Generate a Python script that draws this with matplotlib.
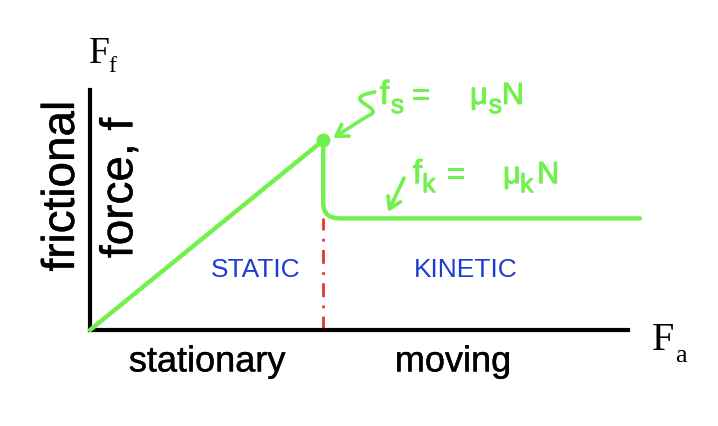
import matplotlib.pyplot as plt
import matplotlib.patheffects as pe
from matplotlib.path import Path
from matplotlib.patches import PathPatch, FancyArrowPatch

# friction vs applied force (arbitrary units)
applied_force = [0.0, 4.24, 10.0]     # start, breakaway point, end of plot
static_friction = [0.0, 7.9]          # rises to fs = mu_s N
kinetic_friction = 4.65               # then drops to fk = mu_k N
axis_end = 9.78

region_labels = ["STATIC", "KINETIC"]
motion_labels = ["stationary", "moving"]

green = "#72f04e"
blue = "#1c3dcf"
red = "#e8352b"
sans = "Liberation Sans"
serif = "Liberation Serif"

fig = plt.figure(figsize=(7.18, 4.26), dpi=100)
ax = fig.add_axes([90 / 718, 96 / 426, 550 / 718, 240 / 426])
ax.set_xlim(0, 10)
ax.set_ylim(0, 10)
ax.set_xticks([])
ax.set_yticks([])
for s in ["top", "right"]:
    ax.spines[s].set_visible(False)
for s in ["left", "bottom"]:
    ax.spines[s].set_linewidth(3)
ax.spines["bottom"].set_bounds(0, axis_end)
ax.patch.set_visible(False)

x0, xp, xe = applied_force
# static part
ax.plot([x0, xp], static_friction, color=green, lw=3.2, solid_capstyle="round", zorder=3, clip_on=False)
ax.plot([xp], [static_friction[1]], "o", color=green, ms=9, zorder=4, clip_on=False)

# kinetic part with rounded corner
rx, ry = 0.3, 0.65
verts = [(xp, static_friction[1]), (xp, kinetic_friction + ry), (xp, kinetic_friction),
         (xp + rx, kinetic_friction), (xe, kinetic_friction)]
codes = [Path.MOVETO, Path.LINETO, Path.CURVE3, Path.CURVE3, Path.LINETO]
ax.add_patch(PathPatch(Path(verts, codes), fill=False, edgecolor=green, lw=3.2,
                       capstyle="round", joinstyle="round", zorder=3, clip_on=False))

# boundary between static and kinetic
ax.plot([xp, xp], [0, kinetic_friction], color=red, lw=2, dashes=(5, 3, 1, 3), zorder=2)

# slightly heavier strokes, like the original's text rendering
heavy = [pe.withStroke(linewidth=0.3, foreground="black")]
heavy_green = [pe.withStroke(linewidth=0.7, foreground=green)]

# region labels
ax.text(3.02, 2.5, region_labels[0], color=blue, fontsize=19, family=sans, ha="center", va="center")
ax.text(6.84, 2.5, region_labels[1], color=blue, fontsize=19, family=sans, ha="center", va="center")
ax.text(2.13, -1.33, motion_labels[0], fontsize=26, family=sans, ha="center", va="center", clip_on=False,
        path_effects=heavy)
ax.text(6.6, -1.33, motion_labels[1], fontsize=26, family=sans, ha="center", va="center", clip_on=False,
        path_effects=heavy)

# axis labels
ax.text(-0.51, 6.0, "frictional", fontsize=33, family=sans, rotation=90, ha="center", va="center",
        path_effects=heavy)
ax.text(0.55, 5.92, "force, f", fontsize=33, family=sans, rotation=90, ha="center", va="center",
        path_effects=heavy)
ax.text(-0.02, 11.12, "F", fontsize=27, family=serif, va="baseline")
ax.text(0.34, 10.75, "f", fontsize=17, family=serif, va="baseline")
ax.text(10.22, -0.83, "F", fontsize=29, family=serif, va="baseline")
ax.text(10.64, -1.33, "a", fontsize=19, family=serif, va="baseline")


def formula(y, sub, xs):
    # xs: positions of f, sub, =, mu, sub, N
    kw = dict(color=green, family=sans, va="baseline", path_effects=heavy_green)
    ax.text(xs[0], y, "f", fontsize=24, **kw)
    ax.text(xs[1], y - 0.38, sub, fontsize=19, **kw)
    ax.text(xs[2], y, "=", fontsize=22, **kw)
    ax.text(xs[3], y, "\u03bc", fontsize=22, **kw)
    ax.text(xs[4], y - 0.38, sub, fontsize=19, **kw)
    ax.text(xs[5], y, "N", fontsize=22, **kw)


formula(9.42, "s", [5.27, 5.47, 5.84, 6.91, 7.25, 7.49])
formula(6.12, "k", [5.87, 6.04, 6.49, 7.51, 7.82, 8.13])

# squiggly arrow to the peak
squiggle = Path([(5.18, 9.92), (4.45, 9.6), (5.45, 9.25), (5.05, 8.92), (4.42, 8.0)],
                [Path.MOVETO, Path.CURVE4, Path.CURVE4, Path.CURVE4, Path.LINETO])
ax.add_patch(FancyArrowPatch(path=squiggle, arrowstyle="->,head_length=8,head_width=5",
                             color=green, lw=2.6, clip_on=False))
ax.add_patch(FancyArrowPatch((5.71, 6.33), (5.42, 4.92), arrowstyle="->,head_length=8,head_width=5",
                             color=green, lw=2.6, shrinkA=0, shrinkB=0, clip_on=False))

fig.savefig("out.png", dpi=100)
